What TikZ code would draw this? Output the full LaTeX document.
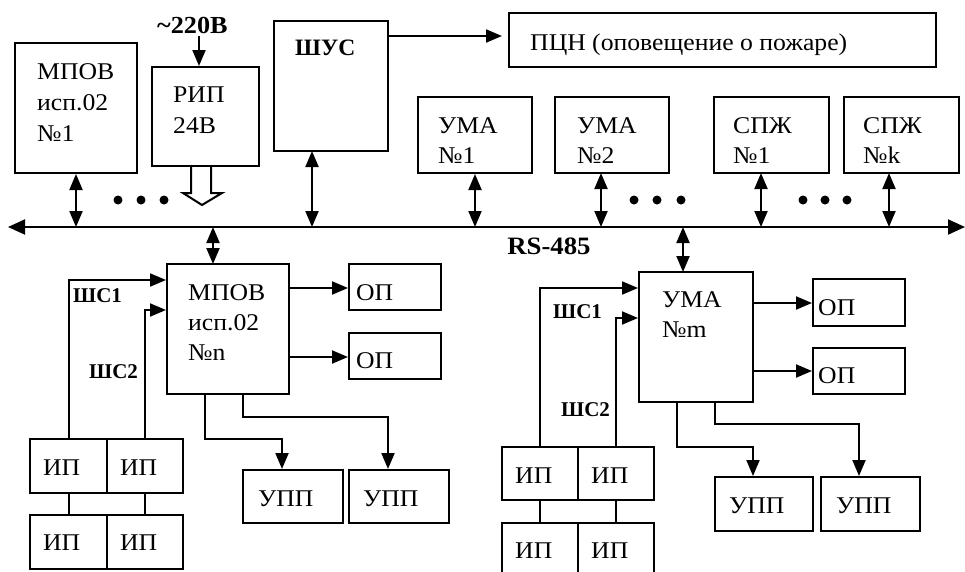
\documentclass[tikz,border=0pt]{standalone}
\usepackage{fontspec}
\setmainfont{Liberation Serif}
\newfontfamily\rfw[FakeStretch=1.07]{Liberation Serif}
\usetikzlibrary{arrows.meta}
\newcommand\mybox[5]{\node[box,minimum width={(#4)-(#2)},minimum height={(#5)-(#3)}] (#1) at ({((#2)+(#4))/2},{((#3)+(#5))/2}) {};}
\begin{document}
\begin{tikzpicture}[x=1pt,y=-1pt,
 box/.style={draw,line width=2pt,inner sep=0pt},
 lbl/.style={anchor=base west,inner sep=0pt,font=\rfw\fontsize{24}{28}\selectfont},
 blbl/.style={anchor=base west,inner sep=0pt,font=\fontsize{21}{25}\selectfont\bfseries},
 ln/.style={line width=2pt},
 arr/.style={ln,-{Triangle[length=16pt,width=13pt]}},
 darr/.style={ln,{Triangle[length=16pt,width=13pt]}-{Triangle[length=16pt,width=13pt]}},
 bdot/.style={circle,fill,inner sep=0pt,minimum size=9pt}]
\useasboundingbox (0,0) rectangle (965,571);
% boxes
\mybox{mpov1}{15}{43}{137}{173}
\mybox{rip}{152}{67}{259}{166}
\mybox{shus}{274}{21}{388}{151}
\mybox{pcn}{509}{13}{936}{67}
\mybox{uma1}{418}{97}{532}{173}
\mybox{uma2}{555}{97}{669}{173}
\mybox{spz1}{714}{97}{829}{173}
\mybox{spzk}{844}{97}{959}{173}
\mybox{mpovn}{167}{264}{289}{394}
\mybox{op1}{349}{264}{441}{310}
\mybox{op2}{349}{333}{441}{379}
\mybox{ipA}{30}{439}{107}{493}
\mybox{ipB}{107}{439}{183}{493}
\mybox{ipC}{30}{515}{107}{569}
\mybox{ipD}{107}{515}{183}{569}
\mybox{upp1}{243}{470}{343}{523}
\mybox{upp2}{349}{470}{449}{523}
\mybox{umam}{639}{272}{753}{402}
\mybox{op3}{813}{279}{905}{326}
\mybox{op4}{813}{348}{905}{394}
\mybox{ipE}{502}{447}{578}{500}
\mybox{ipF}{578}{447}{654}{500}
\mybox{ipG}{502}{523}{578}{577}
\mybox{ipH}{578}{523}{654}{577}
\mybox{upp3}{715}{477}{813}{531}
\mybox{upp4}{821}{477}{920}{531}
% texts
\node[lbl] (t1a) at (37,79) {МПОВ};
\node[lbl] (t1b) at (37,110) {исп.02};
\node[lbl] (t1c) at (37,141) {№1};
\node[lbl] (t2a) at (173,102) {РИП};
\node[lbl] (t2b) at (173,133) {24В};
\node[blbl,font=\fontsize{23.5}{27}\selectfont\bfseries] (t3) at (295,55) {ШУС};
\node[lbl] (t4) at (530,50) {ПЦН (оповещение о пожаре)};
\node[lbl] (t5a) at (438,133) {УМА};
\node[lbl] (t5b) at (438,163) {№1};
\node[lbl] (t6a) at (577,133) {УМА};
\node[lbl] (t6b) at (577,163) {№2};
\node[lbl] (t7a) at (733,133) {СПЖ};
\node[lbl] (t7b) at (733,163) {№1};
\node[lbl] (t8a) at (863,133) {СПЖ};
\node[lbl] (t8b) at (863,163) {№k};
\node[blbl,anchor=base,font=\rfw\fontsize{25}{29}\selectfont\bfseries] (rs) at (549,254) {RS-485};
\node[blbl,font=\rfw\fontsize{24.5}{29}\selectfont\bfseries] (v220) at (157,33) {\textasciitilde220В};
\node[lbl] (t9a) at (188,300) {МПОВ};
\node[lbl] (t9b) at (188,330) {исп.02};
\node[lbl] (t9c) at (188,360) {№n};
\node[lbl] (top1) at (356,300) {ОП};
\node[lbl] (top2) at (356,368) {ОП};
\node[blbl] (shc1a) at (73,302) {ШС1};
\node[blbl] (shc2a) at (89,378) {ШС2};
\node[lbl] (tipA) at (43,475) {ИП};
\node[lbl] (tipB) at (120,475) {ИП};
\node[lbl] (tipC) at (43,550) {ИП};
\node[lbl] (tipD) at (120,550) {ИП};
\node[lbl] (tupp1) at (258,506) {УПП};
\node[lbl] (tupp2) at (363,506) {УПП};
\node[lbl] (t10a) at (662,307) {УМА};
\node[lbl] (t10b) at (662,337) {№m};
\node[lbl] (top3) at (818,315) {ОП};
\node[lbl] (top4) at (818,383) {ОП};
\node[blbl] (shc1b) at (553,318) {ШС1};
\node[blbl] (shc2b) at (561,416) {ШС2};
\node[lbl] (tipE) at (515,483) {ИП};
\node[lbl] (tipF) at (591,483) {ИП};
\node[lbl] (tipG) at (515,558) {ИП};
\node[lbl] (tipH) at (591,558) {ИП};
\node[lbl] (tupp3) at (729,513) {УПП};
\node[lbl] (tupp4) at (836,513) {УПП};
% bus
\coordinate (busL) at (8,227);
\coordinate (busR) at (965,227);
\draw[ln,{Triangle[length=17pt,width=15pt]}-{Triangle[length=17pt,width=15pt]}] (busL) -- (busR);
% bus connectors
\draw[darr] (mpov1.south) -- (mpov1.south |- busL);
\draw[darr] (312,151) -- (312,227);
\draw[darr] (uma1.south) -- (uma1.south |- busL);
\draw[darr] (601,173) -- (601,227);
\draw[darr] (761,173) -- (761,227);
\draw[darr] (889,173) -- (889,227);
\draw[darr] (213,227) -- (213,264);
\draw[darr] (683,227) -- (683,272);
% dots
\foreach \x [count=\i] in {118,141,164,634,657,681,803,825,847}
  \node[bdot] (d\i) at (\x,200) {};
% power
\coordinate (pw) at (199,36);
\draw[arr] (pw) -- (pw |- rip.north);
\draw[ln] (191,166) -- (191,193) -- (183,193) -- (202,205) -- (222,193) -- (211,193) -- (211,166);
% SHUS -> PCN
\draw[arr] (388,36) -- (502,36);
% left group
\draw[arr] (ipA.north) |- (mpovn.west |- 0,280);
\draw[arr] (ipB.north) |- (mpovn.west |- 0,310);
\draw[ln] (ipA.south) -- (ipC.north);
\draw[ln] (ipB.south) -- (ipD.north);
\draw[arr] (mpovn.east |- 0,288) -- (op1.west |- 0,288);
\draw[arr] (mpovn.east |- 0,357) -- (op2.west |- 0,357);
\draw[arr] (205,394) |- (282,439) -- (upp1.north -| 282,0);
\draw[arr] (243,394) |- (388,417) -- (upp2.north -| 388,0);
% right group
\draw[arr] (ipE.north -| 540,0) |- (umam.west |- 0,288);
\draw[arr] (ipF.north -| 616,0) |- (umam.west |- 0,318);
\draw[ln] (ipE.south -| 540,0) -- (ipG.north -| 540,0);
\draw[ln] (ipF.south -| 616,0) -- (ipH.north -| 616,0);
\draw[arr] (umam.east |- 0,303) -- (op3.west |- 0,303);
\draw[arr] (umam.east |- 0,371) -- (op4.west |- 0,371);
\draw[arr] (677,402) |- (753,447) -- (upp3.north -| 753,0);
\draw[arr] (715,402) |- (859,424) -- (upp4.north -| 859,0);
\end{tikzpicture}
\end{document}
